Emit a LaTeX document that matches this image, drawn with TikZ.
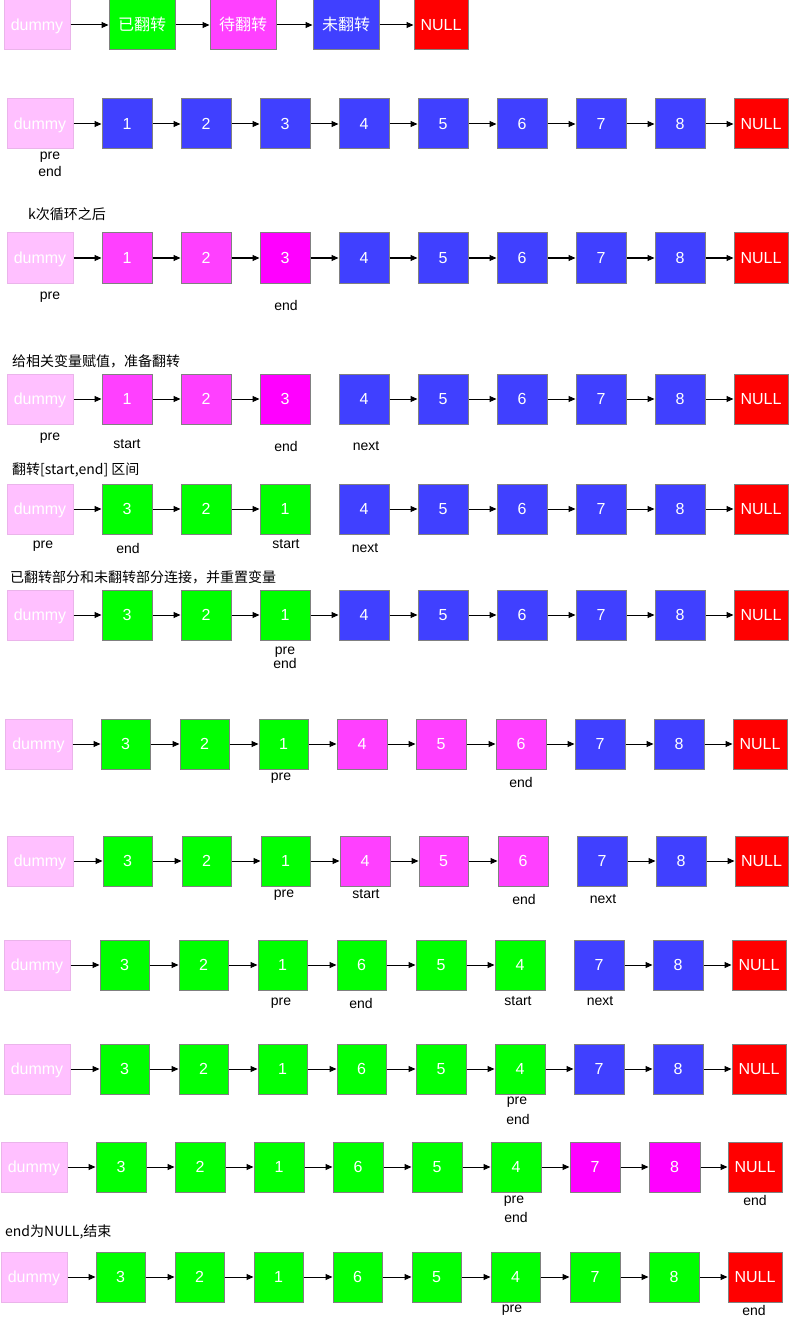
\documentclass[tikz,border=0pt]{standalone}
\usepackage{fontspec}
\setmainfont{Liberation Sans}
\newfontfamily\cjk{Noto Sans CJK SC}
\usetikzlibrary{arrows.meta}
\definecolor{dum}{HTML}{FFC0FF}
\definecolor{dumB}{HTML}{EAB4EA}
\definecolor{grn}{HTML}{00FF00}
\definecolor{pnk}{HTML}{FF40FF}
\definecolor{mag}{HTML}{FF00FF}
\definecolor{blu}{HTML}{4040FF}
\definecolor{red}{HTML}{FF0000}
\definecolor{grnB}{HTML}{808080}
\definecolor{pnkB}{HTML}{808080}
\definecolor{magB}{HTML}{808080}
\definecolor{bluB}{HTML}{808080}
\definecolor{redB}{HTML}{808080}
\tikzset{
  nb/.style={rectangle, minimum height=50, inner sep=0pt, text=white,
    line width=1pt, font=\fontsize{16}{18}\selectfont, text height=11.5pt, text depth=0pt},
  cjkbox/.style={font=\cjk\fontsize{16}{18}\selectfont, text height=13pt, text depth=1pt},
  arr/.style={line width=1pt, -{Triangle[length=7pt,width=6pt]}},
  lb/.style={inner sep=0pt, font=\fontsize{14}{16}\selectfont},
  captext/.style={inner sep=0pt, anchor=west, font=\cjk\fontsize{14}{16}\selectfont}
}
\newcommand\boxrow[4]{%
  \foreach \i/\a/\b/\t/\c in {#3} {\node[nb, fill=\c, draw=\c B, minimum width={\b-\a}] (#1n\i) at ({(\a+\b)/2},#2) {\t};}
  \foreach \i/\j in {#4} {\draw[arr] (#1n\i) -- (#1n\j);}
}
\begin{document}
\begin{tikzpicture}[x=1pt,y=-1pt]
\useasboundingbox (0,0) rectangle (789,1324);
% legend
\node[nb, fill=dum, draw=dumB, minimum width=66] (l0) at (37,25) {dummy};
\node[nb, fill=grn, draw=grnB, minimum width=66, cjkbox] (l1) at (142,25) {已翻转};
\node[nb, fill=pnk, draw=pnkB, minimum width=66, cjkbox] (l2) at (243,25) {待翻转};
\node[nb, fill=blu, draw=bluB, minimum width=66, cjkbox] (l3) at (346,25) {未翻转};
\node[nb, fill=red, draw=redB, minimum width=54] (l4) at (441,25) {NULL};
\foreach \i/\j in {0/1,1/2,2/3,3/4} {\draw[arr] (l\i) -- (l\j);}

% row 1
\boxrow{a}{124}{0/7/73/dummy/dum,1/102/152/1/blu,2/181/231/2/blu,3/260/310/3/blu,4/339/389/4/blu,5/418/468/5/blu,6/497/547/6/blu,7/576/626/7/blu,8/655/705/8/blu,9/734/788/NULL/red}{0/1,1/2,2/3,3/4,4/5,5/6,6/7,7/8,8/9}
\node[lb] (aL1) at (50,157) {pre};
\node[lb] (aL2) at (50,171) {end};

% row 2
\node[captext] (bC) at (28,214) {k次循环之后};
\boxrow{b}{258}{0/7/73/dummy/dum,1/102/152/1/pnk,2/181/231/2/pnk,3/260/310/3/mag,4/339/389/4/blu,5/418/468/5/blu,6/497/547/6/blu,7/576/626/7/blu,8/655/705/8/blu,9/734/788/NULL/red}{0/1,1/2,2/3,3/4,4/5,5/6,6/7,7/8,8/9}
\node[lb] (bL1) at (50,297) {pre};
\node[lb] (bL2) at (286,305) {end};

% row 3
\node[captext] (cC) at (12,361) {给相关变量赋值，准备翻转};
\boxrow{c}{399}{0/7/73/dummy/dum,1/102/152/1/pnk,2/181/231/2/pnk,3/260/310/3/mag,4/339/389/4/blu,5/418/468/5/blu,6/497/547/6/blu,7/576/626/7/blu,8/655/705/8/blu,9/734/788/NULL/red}{0/1,1/2,2/3,4/5,5/6,6/7,7/8,8/9}
\node[lb] (cL1) at (50,438) {pre};
\node[lb] (cL2) at (127,444) {start};
\node[lb] (cL3) at (286,446) {end};
\node[lb] (cL4) at (366,446) {next};

% row 4
\node[captext] (dC) at (12,470) {翻转[start,end] 区间};
\boxrow{d}{509}{0/7/73/dummy/dum,1/102/152/3/grn,2/181/231/2/grn,3/260/310/1/grn,4/339/389/4/blu,5/418/468/5/blu,6/497/547/6/blu,7/576/626/7/blu,8/655/705/8/blu,9/734/788/NULL/red}{0/1,1/2,2/3,4/5,5/6,6/7,7/8,8/9}
\node[lb] (dL1) at (43,546) {pre};
\node[lb] (dL2) at (128,548) {end};
\node[lb] (dL3) at (286,544) {start};
\node[lb] (dL4) at (365,548) {next};

% row 5
\node[captext] (eC) at (10,577) {已翻转部分和未翻转部分连接，并重置变量};
\boxrow{e}{615}{0/7/73/dummy/dum,1/102/152/3/grn,2/181/231/2/grn,3/260/310/1/grn,4/339/389/4/blu,5/418/468/5/blu,6/497/547/6/blu,7/576/626/7/blu,8/655/705/8/blu,9/734/788/NULL/red}{0/1,1/2,2/3,3/4,4/5,5/6,6/7,7/8,8/9}
\node[lb] (eL1) at (285,652) {pre};
\node[lb] (eL2) at (285,663) {end};

% row 6
\boxrow{f}{744}{0/5/72/dummy/dum,1/101/150/3/grn,2/180/229/2/grn,3/259/308/1/grn,4/337/387/4/pnk,5/416/466/5/pnk,6/496/546/6/pnk,7/575/625/7/blu,8/654/704/8/blu,9/733/787/NULL/red}{0/1,1/2,2/3,3/4,4/5,5/6,6/7,7/8,8/9}
\node[lb] (fL1) at (281,778) {pre};
\node[lb] (fL2) at (521,782) {end};

% row 7
\boxrow{g}{861}{0/7/73/dummy/dum,1/103/152/3/grn,2/182/231/2/grn,3/261/310/1/grn,4/340/390/4/pnk,5/419/468/5/pnk,6/498/548/6/pnk,7/577/627/7/blu,8/656/706/8/blu,9/735/788/NULL/red}{0/1,1/2,2/3,3/4,4/5,5/6,7/8,8/9}
\node[lb] (gL1) at (284,895) {pre};
\node[lb] (gL2) at (366,894) {start};
\node[lb] (gL3) at (524,899) {end};
\node[lb] (gL4) at (603,899) {next};

% row 8
\boxrow{h}{965}{0/4/70/dummy/dum,1/100/149/3/grn,2/179/228/2/grn,3/258/307/1/grn,4/337/386/6/grn,5/416/466/5/grn,6/495/545/4/grn,7/574/624/7/blu,8/653/703/8/blu,9/732/786/NULL/red}{0/1,1/2,2/3,3/4,4/5,5/6,7/8,8/9}
\node[lb] (hL1) at (281,1003) {pre};
\node[lb] (hL2) at (361,1003) {end};
\node[lb] (hL3) at (518,1001) {start};
\node[lb] (hL4) at (600,1001) {next};

% row 9
\boxrow{i}{1069}{0/4/70/dummy/dum,1/100/149/3/grn,2/179/228/2/grn,3/258/307/1/grn,4/337/386/6/grn,5/416/466/5/grn,6/495/545/4/grn,7/574/624/7/blu,8/653/703/8/blu,9/732/786/NULL/red}{0/1,1/2,2/3,3/4,4/5,5/6,6/7,7/8,8/9}
\node[lb] (iL1) at (517,1102) {pre};
\node[lb] (iL2) at (518,1119) {end};

% row 10
\boxrow{j}{1167}{0/1/67/dummy/dum,1/96/146/3/grn,2/175/225/2/grn,3/254/304/1/grn,4/333/383/6/grn,5/412/462/5/grn,6/491/541/4/grn,7/570/620/7/mag,8/649/700/8/mag,9/728/782/NULL/red}{0/1,1/2,2/3,3/4,4/5,5/6,6/7,7/8,8/9}
\node[lb] (jL1) at (514,1201) {pre};
\node[lb] (jL2) at (516,1217) {end};
\node[lb] (jL3) at (755,1200) {end};

% row 11
\node[captext] (kC) at (5,1232) {end为NULL,结束};
\boxrow{k}{1277}{0/1/67/dummy/dum,1/96/145/3/grn,2/175/224/2/grn,3/254/303/1/grn,4/333/382/6/grn,5/412/461/5/grn,6/491/540/4/grn,7/570/620/7/grn,8/649/699/8/grn,9/728/782/NULL/red}{0/1,1/2,2/3,3/4,4/5,5/6,6/7,7/8,8/9}
\node[lb] (kL1) at (512,1310) {pre};
\node[lb] (kL2) at (754,1310) {end};
\end{tikzpicture}
\end{document}
